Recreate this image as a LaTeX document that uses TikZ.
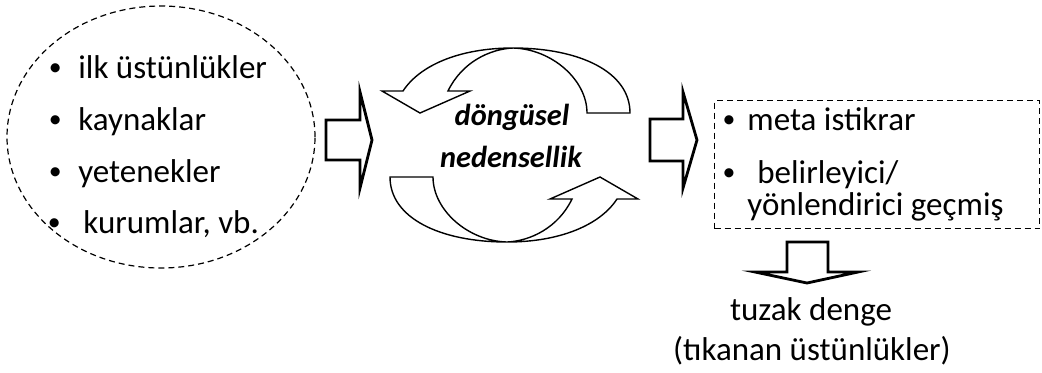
\documentclass[tikz,border=0pt]{standalone}
\usepackage{fontspec}
\setmainfont{Carlito}
\usetikzlibrary{shapes.geometric}
\newcommand{\dotmark}{\raisebox{1.1pt}{\scalebox{0.78}{•}}}

\begin{document}
\begin{tikzpicture}[x=0.5pt, y=-0.5pt, inner sep=0pt]
	\tikzstyle{every node}=[align=left, font=\fontsize{16.5}{20}\selectfont]
	\tikzstyle{dashedline}=[dash pattern=on 3pt off 2pt, line width=0.6pt]
	\tikzstyle{blockarrow}=[draw, line width=1.4pt, line join=miter, fill=white]
	\tikzstyle{cyclearrow}=[draw, line width=0.7pt, fill=white, line join=miter]
	\tikzstyle{cycletext}=[anchor=base, font=\fontsize{15.2}{18}\selectfont\bfseries\itshape]
		\useasboundingbox (0,0) rectangle (1042,372);

		\draw[dashedline] (161,137) ellipse [x radius=77pt, y radius=65.5pt];
		\node[anchor=base west] (first) at (32,78) {\makebox[23pt]{\dotmark}ilk üstünlükler};
		\node[anchor=base west] (resources) at (32,130) {\makebox[23pt]{\dotmark}kaynaklar};
		\node[anchor=base west] (skills) at (32,182) {\makebox[23pt]{\dotmark}yetenekler};
		\node[anchor=base west] (institutions) at (25,233) {\makebox[29pt]{\dotmark}kurumlar, vb.};

		\draw[blockarrow] (326,120) -- (360,120) -- (360,92) -- (372,140) -- (360,188) -- (360,160) -- (326,160) -- cycle;

		\draw[cyclearrow] (420,113) -- (382,91) -- (403,91)
			.. controls (420,65) and (460,48) .. (513,48)
			.. controls (580,48) and (630,72) .. (630,113) -- (587,113)
			.. controls (587,80) and (552,49) .. (513,48)
			.. controls (490,49) and (462,62) .. (448,91) -- (470,91) -- cycle;
		\draw[cyclearrow, rotate around={180:(510,145)}] (420,113) -- (382,91) -- (403,91)
			.. controls (420,65) and (460,48) .. (513,48)
			.. controls (580,48) and (630,72) .. (630,113) -- (587,113)
			.. controls (587,80) and (552,49) .. (513,48)
			.. controls (490,49) and (462,62) .. (448,91) -- (470,91) -- cycle;
		\node[cycletext] (cyclic) at (512,125) {döngüsel};
		\node[cycletext] (causality) at (511,167) {nedensellik};

		\draw[blockarrow] (650,119) -- (683,119) -- (683,92) -- (697,140) -- (683,188) -- (683,161) -- (650,161) -- cycle;

		\node[draw, dashedline, line width=0.7pt, minimum width=162.5pt, minimum height=64pt, anchor=north west] (outcome) at (714,100) {};
		\node[anchor=base west] (meta) at (710,130) {\makebox[18.5pt]{\dotmark}meta istikrar};
		\node[anchor=base west] (history) at (700,183) {\makebox[28.5pt]{\dotmark}belirleyici/};
		\node[anchor=base west] (history2) at (747,215) {yönlendirici geçmiş};

		\draw[blockarrow] (787,242) -- (787,272) -- (755,272) -- (807,283) -- (858,272) -- (828,272) -- (828,242) -- cycle;

		\node[anchor=base] (trap) at (811,320) {tuzak denge};
		\node[anchor=base] (blocked) at (812,360) {(tıkanan üstünlükler)};
	\end{tikzpicture}
\end{document}
